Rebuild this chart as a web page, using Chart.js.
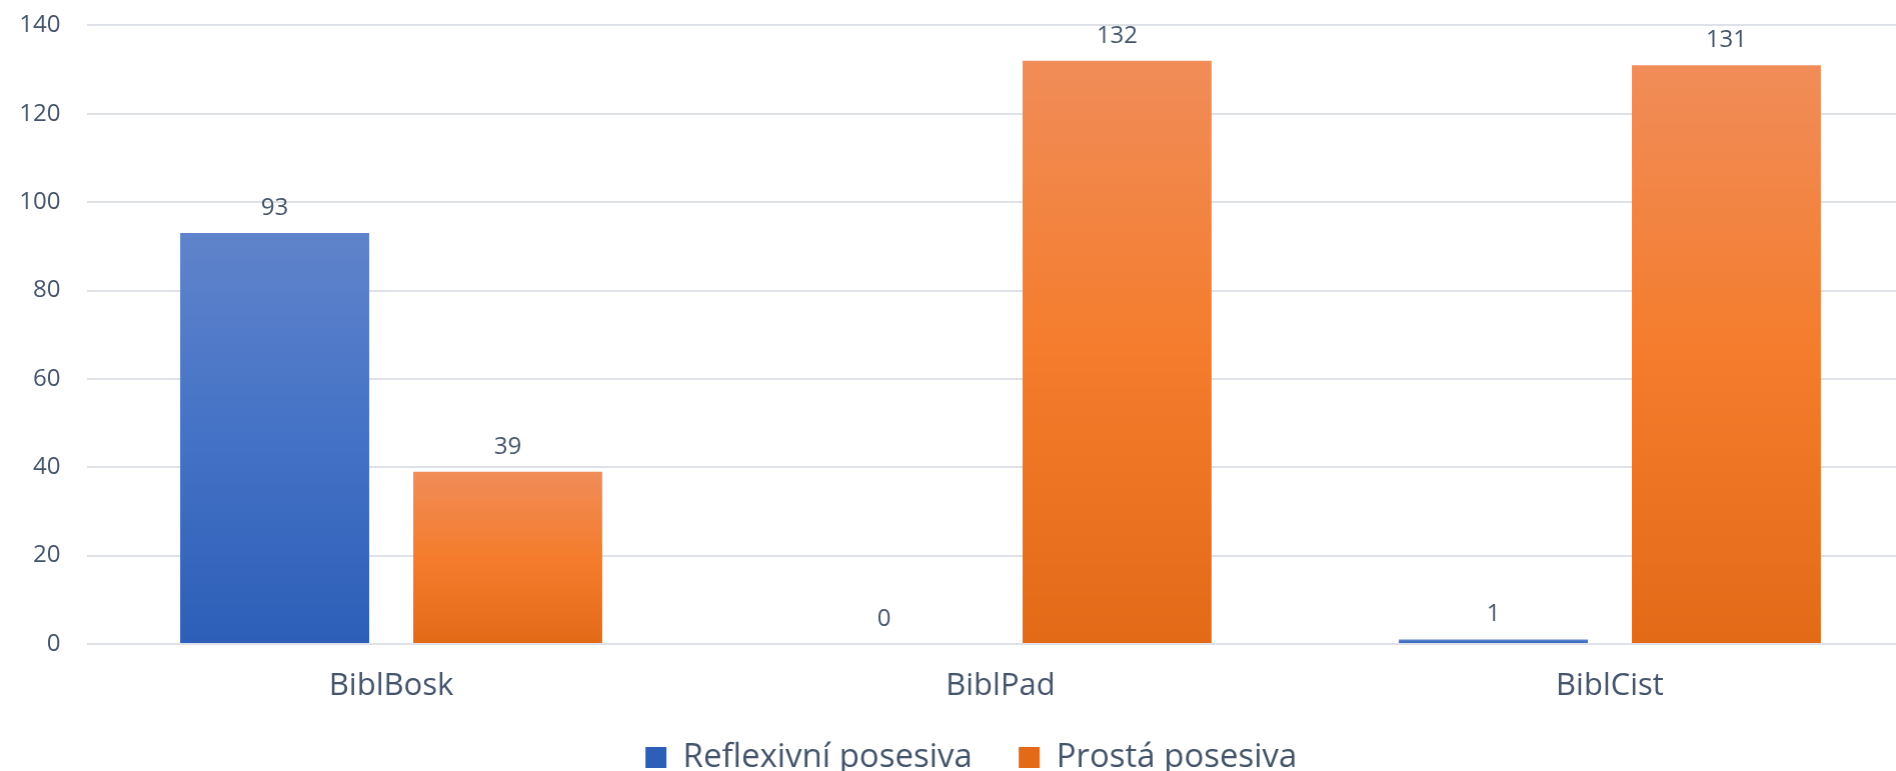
<!DOCTYPE html>
<html>
<head>
<meta charset="utf-8">
<script src="https://cdn.jsdelivr.net/npm/chart.js@4"></script>
<style>
  html, body { margin: 0; padding: 0; background: #fff; overflow: hidden; }
  #wrap { width: 1941.5px; height: 784px; position: relative; }
</style>
</head>
<body>
<div id="wrap"><canvas id="chart"></canvas></div>
<script>
// data
const categories = ['BiblBosk', 'BiblPad', 'BiblCist'];
const seriesNames = ['Reflexivní posesiva', 'Prostá posesiva'];
const reflexivni = [93, 0, 1];
const prosta = [39, 132, 131];
const yTicks = [0, 20, 40, 60, 80, 100, 120, 140];

const textColor = '#44546A';
const gridColor = '#DEE2E8';
const FONT = "'Open Sans', sans-serif";

// top -> bottom gradient stops of each series
const blueStops = ['#6084CB', '#4472C6', '#2D5FB8'];
const orangeStops = ['#F18D59', '#F47C2C', '#E36A17'];

function barGradient(stops) {
  return (ctx) => {
    if (ctx.type !== 'data') return stops[1];
    const chart = ctx.chart;
    const y = chart.scales.y;
    if (!chart.chartArea || !y) return stops[1];
    const top = y.getPixelForValue(ctx.raw);
    const base = y.getPixelForValue(0);
    if (base - top < 1) return stops[1];
    const g = chart.ctx.createLinearGradient(0, top, 0, base);
    g.addColorStop(0, stops[0]);
    g.addColorStop(0.5, stops[1]);
    g.addColorStop(1, stops[2]);
    return g;
  };
}

// value labels above bars
const valueLabels = {
  id: 'valueLabels',
  afterDatasetsDraw(chart) {
    const c = chart.ctx;
    c.save();
    c.font = '24px ' + FONT;
    c.fillStyle = textColor;
    c.textAlign = 'center';
    c.textBaseline = 'middle';
    chart.data.datasets.forEach((ds, i) => {
      chart.getDatasetMeta(i).data.forEach((bar, j) => {
        c.fillText(ds.data[j], bar.x, bar.y - 25);
      });
    });
    c.restore();
  }
};

new Chart(document.getElementById('chart'), {
  type: 'bar',
  data: {
    labels: categories,
    datasets: [
      { label: seriesNames[0], data: reflexivni, backgroundColor: barGradient(blueStops),
        categoryPercentage: 0.765, barPercentage: 0.811 },
      { label: seriesNames[1], data: prosta, backgroundColor: barGradient(orangeStops),
        categoryPercentage: 0.765, barPercentage: 0.811 }
    ]
  },
  options: {
    responsive: true,
    maintainAspectRatio: false,
    animation: false,
    layout: { padding: 0 },
    scales: {
      x: {
        grid: { display: false, drawTicks: false },
        border: { display: false },
        ticks: { color: textColor, font: { family: FONT, size: 31, lineHeight: 2.387 }, padding: 5.5 }
      },
      y: {
        min: 0, max: 140,
        afterBuildTicks: (axis) => { axis.ticks = yTicks.map(v => ({ value: v })); },
        afterFit: (axis) => { axis.width = 86.5; axis.paddingTop = 25.4; },
        grid: { color: gridColor, lineWidth: 2, drawTicks: false },
        border: { display: false },
        ticks: { color: textColor, font: { family: FONT, size: 24 }, padding: 26 }
      },
      // empty right axis so the legend centres like the original
      yRight: {
        position: 'right',
        display: true,
        grid: { display: false, drawTicks: false },
        border: { display: false },
        ticks: { display: false },
        afterFit: (axis) => { axis.width = 28; }
      }
    },
    plugins: {
      legend: {
        position: 'bottom',
        labels: {
          color: textColor,
          font: { family: FONT, size: 33 },
          boxWidth: 21, boxHeight: 21,
          padding: 12,
          generateLabels: (chart) => {
            const items = Chart.defaults.plugins.legend.labels.generateLabels(chart);
            items[0].text += '    ';
            return items;
          }
        }
      },
      tooltip: { enabled: false }
    }
  },
  plugins: [valueLabels]
});
</script>
</body>
</html>
